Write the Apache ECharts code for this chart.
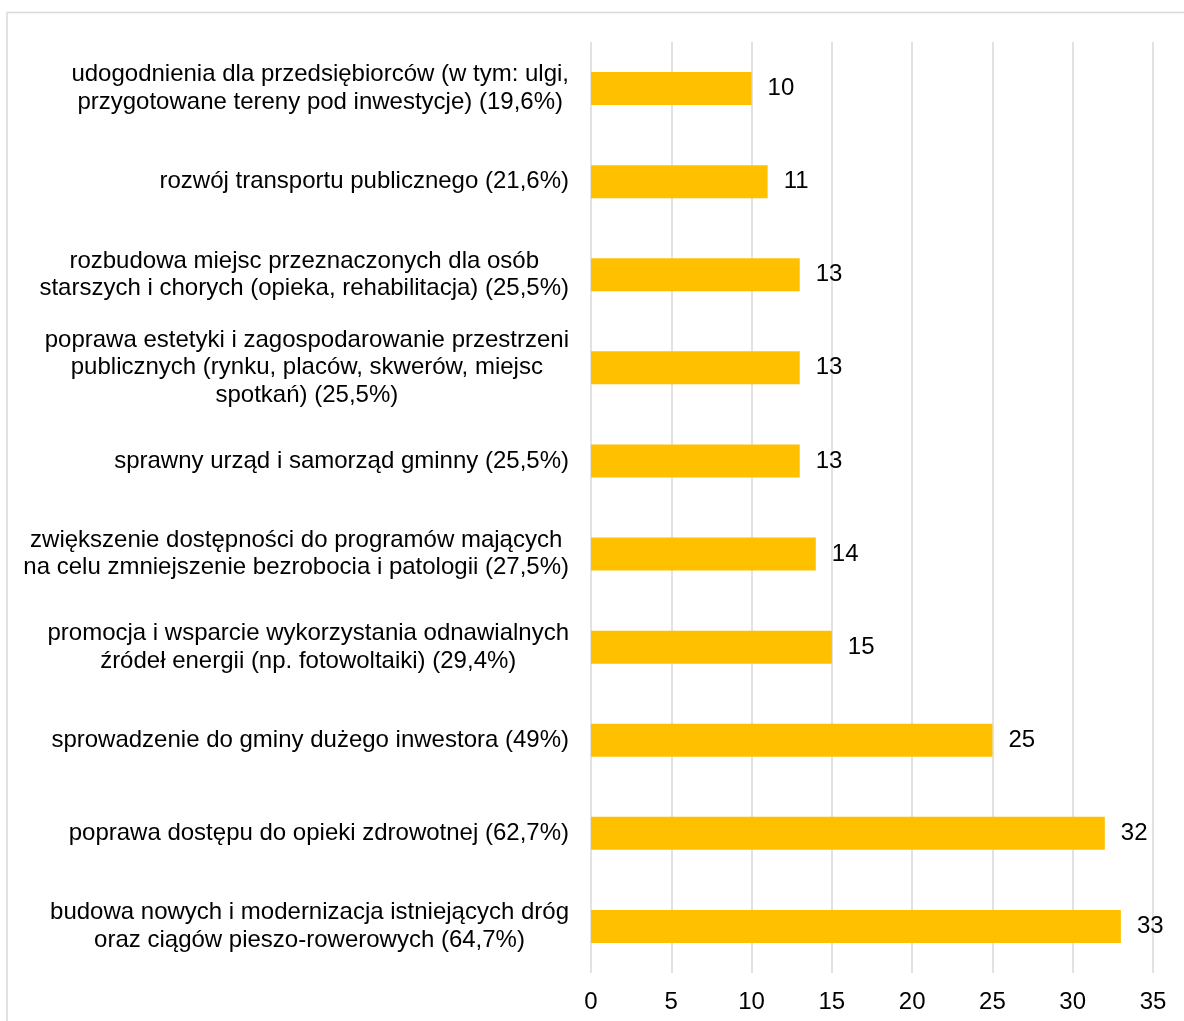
<!DOCTYPE html>
<html>
<head>
<meta charset="utf-8">
<style>
html,body{margin:0;padding:0;background:#fff;}
#chart{width:1184px;height:1021px;}
</style>
<script src="https://cdn.jsdelivr.net/npm/echarts@6/dist/echarts.min.js"></script>
</head>
<body>
<div id="chart"></div>
<script>
// top-to-bottom order
const categories = [
  "udogodnienia dla przedsiębiorców (w tym: ulgi,\nprzygotowane tereny pod inwestycje) (19,6%)",
  "rozwój transportu publicznego (21,6%)",
  "rozbudowa miejsc przeznaczonych dla osób\nstarszych i chorych (opieka, rehabilitacja) (25,5%)",
  "poprawa estetyki i zagospodarowanie przestrzeni\npublicznych (rynku, placów, skwerów, miejsc\nspotkań) (25,5%)",
  "sprawny urząd i samorząd gminny (25,5%)",
  "zwiększenie dostępności do programów mających\nna celu zmniejszenie bezrobocia i patologii (27,5%)",
  "promocja i wsparcie wykorzystania odnawialnych\nźródeł energii (np. fotowoltaiki) (29,4%)",
  "sprowadzenie do gminy dużego inwestora (49%)",
  "poprawa dostępu do opieki zdrowotnej (62,7%)",
  "budowa nowych i modernizacja istniejących dróg\noraz ciągów pieszo-rowerowych (64,7%)"
];
const values = [10, 11, 13, 13, 13, 14, 15, 25, 32, 33];
const xTicks = [0, 5, 10, 15, 20, 25, 30, 35];

const FONT = '"Liberation Sans", Arial, sans-serif';
const chart = echarts.init(document.getElementById('chart'));
chart.setOption({
  backgroundColor: '#ffffff',
  animation: false,
  graphic: [{
    type: 'rect',
    shape: { x: 7, y: 12.5, width: 1400, height: 1200 },
    style: { fill: 'none', stroke: '#d9d9d9', lineWidth: 1.5 },
    silent: true
  }],
  grid: { left: 591, right: 31, top: 42, bottom: 48, containLabel: false },
  xAxis: {
    type: 'value',
    min: xTicks[0],
    max: xTicks[xTicks.length - 1],
    interval: 5,
    axisLine: { show: false },
    axisTick: { show: false },
    splitLine: { show: true, lineStyle: { color: '#d9d9d9', width: 1.5 } },
    axisLabel: { color: '#000', fontFamily: FONT, fontSize: 24, margin: 17 }
  },
  yAxis: {
    type: 'category',
    data: categories,
    inverse: true,
    axisLine: { show: false },
    axisTick: { show: false },
    splitLine: { show: false },
    axisLabel: {
      color: '#000',
      fontFamily: FONT,
      fontSize: 24,
      lineHeight: 27.5,
      margin: 22,
      align: 'right',
      formatter: function (v) {
        return v.split('\n').map(l => '{c|' + l + '}').join('\n');
      },
      rich: {
        c: { align: 'center', color: '#000', fontFamily: FONT, fontSize: 24, lineHeight: 27.5 }
      }
    }
  },
  series: [{
    type: 'bar',
    data: values,
    barWidth: 33,
    itemStyle: { color: '#FFC000' },
    label: {
      show: true,
      position: 'right',
      distance: 16,
      color: '#000',
      fontFamily: FONT,
      fontSize: 24
    }
  }]
});
</script>
</body>
</html>
